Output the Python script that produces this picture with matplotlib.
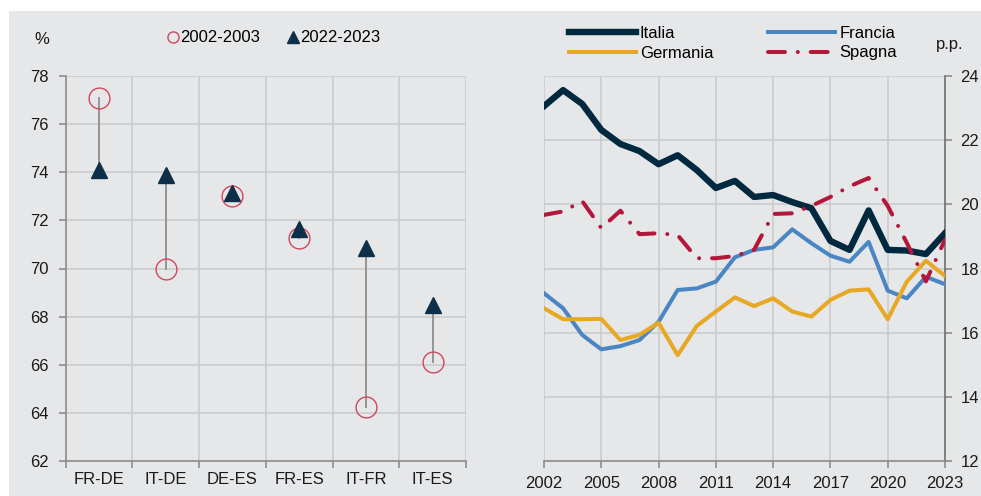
import matplotlib
matplotlib.use("Agg")
import matplotlib.pyplot as plt
from matplotlib.lines import Line2D
from matplotlib.patches import Rectangle

plt.rcParams['font.family'] = ['Liberation Sans', 'DejaVu Sans']
plt.rcParams['font.size'] = 12

# pannello sinistro: coppie di paesi
pairs = ['FR-DE', 'IT-DE', 'DE-ES', 'FR-ES', 'IT-FR', 'IT-ES']
val_2002_2003 = [77.1, 70.0, 73.0, 71.25, 64.25, 66.1]
val_2022_2023 = [74.1, 73.9, 73.15, 71.65, 70.85, 68.5]

# pannello destro: serie annuali
years = list(range(2002, 2024))
italia = [23.06, 23.56, 23.13, 22.32, 21.88, 21.66, 21.25, 21.53, 21.07, 20.51, 20.73,
          20.23, 20.29, 20.07, 19.88, 18.86, 18.58, 19.81, 18.58, 18.56, 18.45, 19.1]
francia = [17.23, 16.76, 15.93, 15.48, 15.58, 15.77, 16.34, 17.33, 17.38, 17.59, 18.35,
           18.58, 18.66, 19.22, 18.79, 18.4, 18.21, 18.83, 17.31, 17.07, 17.74, 17.51]
germania = [16.76, 16.42, 16.42, 16.43, 15.77, 15.93, 16.31, 15.3, 16.21, 16.66, 17.1,
            16.83, 17.07, 16.66, 16.5, 17.02, 17.31, 17.35, 16.42, 17.59, 18.24, 17.77]
spagna = [19.67, 19.78, 20.1, 19.26, 19.8, 19.07, 19.1, 19.04, 18.32, 18.32, 18.39,
          18.58, 19.7, 19.72, 19.95, 20.23, 20.56, 20.82, 19.95, 18.8, 17.6, 18.9]

BG = '#e6e7e9'
GRID = '#c9cacc'
SPINE = '#8c8c8c'
TXT = '#1a1a1a'

fig = plt.figure(figsize=(9.81, 4.96), dpi=100)
fig.patches.append(Rectangle((9 / 981, 0), 1, 485 / 496, transform=fig.transFigure,
                             facecolor=BG, edgecolor='none', zorder=-10))

ax1 = fig.add_axes([65.7 / 981, 35 / 496, 400.3 / 981, 385 / 496])
ax2 = fig.add_axes([544 / 981, 35 / 496, 401 / 981, 385 / 496])

for ax in (ax1, ax2):
    ax.set_facecolor('none')
    for s in ax.spines.values():
        s.set_visible(False)
    ax.tick_params(colors=SPINE, labelcolor=TXT, length=5, width=1.2, labelsize=12)
    ax.set_axisbelow(True)

# --- sinistra ---
x = list(range(len(pairs)))
for i in x:
    ax1.plot([i, i], [val_2002_2003[i], val_2022_2023[i]], color='#8e8e8e', lw=1.3, zorder=2)
ax1.plot(x, val_2002_2003, 'o', ms=15, mfc='none', mec='#d2465c', mew=1.0, zorder=3)
ax1.plot(x, val_2022_2023, '^', ms=11, mfc='#0d2f47', mec='#0d2f47', zorder=4)
ax1.set_xlim(-0.5, 5.5)
ax1.set_ylim(62, 78)
ax1.set_yticks(range(62, 79, 2))
ax1.set_xticks(x)
ax1.set_xticklabels(pairs)
ax1.set_xticks([i - 0.5 for i in range(7)], minor=True)
ax1.tick_params(axis='x', which='major', length=0, pad=8)
ax1.tick_params(axis='x', which='minor', length=5, width=1.2, colors=SPINE)
ax1.tick_params(axis='y', pad=7)
ax1.grid(axis='y', which='major', color=GRID, lw=1.1)
ax1.grid(axis='x', which='minor', color=GRID, lw=1.1)
for side in ('left', 'bottom'):
    ax1.spines[side].set_visible(True)
    ax1.spines[side].set_color(SPINE)
    ax1.spines[side].set_linewidth(1.2)

h1 = [Line2D([], [], ls='none', marker='o', ms=8, mfc='none', mec='#d2465c', mew=1.0),
      Line2D([], [], ls='none', marker='^', ms=8, mfc='#0d2f47', mec='#0d2f47')]
ax1.legend(h1, ['2002-2003', '2022-2023'], loc='center', bbox_to_anchor=(274 / 981, 1 - 38 / 496),
           bbox_transform=fig.transFigure, ncol=2, frameon=False, handlelength=0.6,
           handletextpad=0.1, columnspacing=1.7, fontsize=12)
fig.text(42 / 981, 1 - 40 / 496, '%', ha='center', va='center', fontsize=12, color=TXT)

# --- destra ---
l_fr, = ax2.plot(years, francia, color='#4a86c3', lw=2.9, label='Francia', zorder=3)
l_de, = ax2.plot(years, germania, color='#e7a823', lw=2.9, label='Germania', zorder=4)
l_it, = ax2.plot(years, italia, color='#00283f', lw=4.6, label='Italia', zorder=5)
l_es, = ax2.plot(years, spagna, color='#b3173a', lw=2.9, label='Spagna', zorder=6,
                 ls=(0, (4.2, 3.2, 0.01, 3.2)), dash_capstyle='round')
ax2.set_xlim(2002, 2023)
ax2.set_ylim(12, 24)
ax2.set_xticks(range(2002, 2024, 3))
ax2.set_yticks(range(12, 25, 2))
ax2.yaxis.tick_right()
ax2.tick_params(axis='x', pad=6)
ax2.tick_params(axis='y', pad=6)
ax2.grid(True, color=GRID, lw=1.1)
ax2.spines['right'].set_visible(True)
ax2.spines['bottom'].set_visible(True)
ax2.spines['right'].set_color('#707070')
ax2.spines['bottom'].set_color(SPINE)
ax2.spines['right'].set_linewidth(1.2)
ax2.spines['bottom'].set_linewidth(1.2)

ax2.legend([l_it, l_de, l_fr, l_es], ['Italia', 'Germania', 'Francia', 'Spagna'],
           loc='center', bbox_to_anchor=(733 / 981, 1 - 43 / 496), bbox_transform=fig.transFigure,
           ncol=2, frameon=False, handlelength=4.0, handletextpad=0.25, columnspacing=3.3,
           labelspacing=0.3, fontsize=12)
fig.text(950 / 981, 1 - 44 / 496, 'p.p.', ha='center', va='center', fontsize=12, color=TXT)

fig.savefig('out.png', dpi=100)
